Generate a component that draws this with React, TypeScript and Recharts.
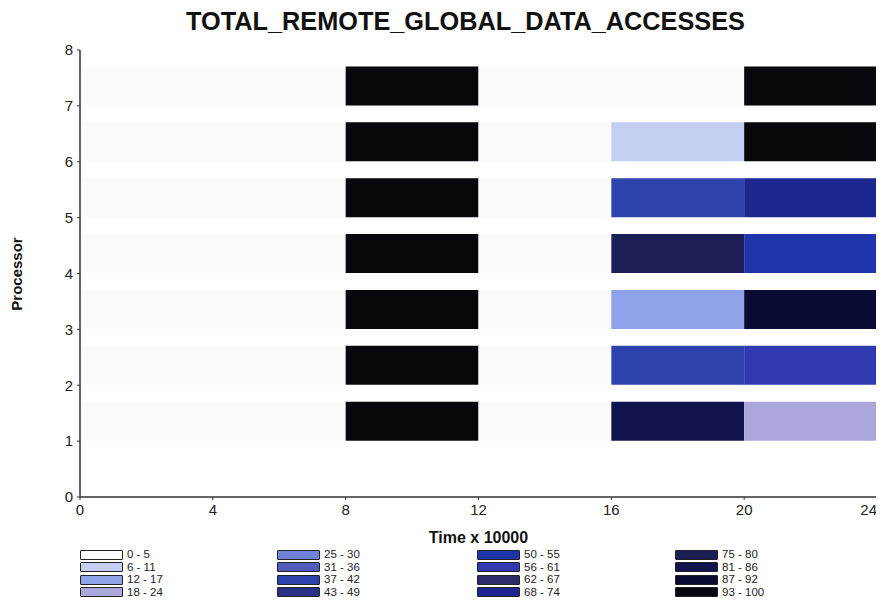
import React from 'react';
import { BarChart, Bar, XAxis, YAxis, Cell, Label } from 'recharts';

// Time intervals (x 10000) and the processors shown on the y axis
const timeBreaks = [0, 4, 8, 12, 16, 20, 24];
const processors = [1, 2, 3, 4, 5, 6, 7];

// Percentage of remote global data accesses per processor, one array per time interval
const interval0to4 = [2, 2, 2, 2, 2, 2, 2];
const interval4to8 = [2, 2, 2, 2, 2, 2, 2];
const interval8to12 = [97, 97, 97, 97, 97, 97, 97];
const interval12to16 = [2, 2, 2, 2, 2, 2, 2];
const interval16to20 = [83, 40, 15, 77, 40, 9, 2];
const interval20to24 = [20, 58, 90, 52, 70, 97, 97];
const intervals = [interval0to4, interval4to8, interval8to12, interval12to16, interval16to20, interval20to24];

// Colour scale
const levelLow = [0, 6, 12, 18, 25, 31, 37, 43, 50, 56, 62, 68, 75, 81, 87, 93];
const levelLabels = [
  '0 - 5', '6 - 11', '12 - 17', '18 - 24',
  '25 - 30', '31 - 36', '37 - 42', '43 - 49',
  '50 - 55', '56 - 61', '62 - 67', '68 - 74',
  '75 - 80', '81 - 86', '87 - 92', '93 - 100',
];
const levelColors = [
  '#fafafb', '#c4cff2', '#8ea3ea', '#aba6db',
  '#7183d8', '#525cba', '#2d42ac', '#283184',
  '#1e34a8', '#3039b0', '#2c2a68', '#1c2890',
  '#1c1f54', '#10134c', '#0b0c34', '#07070c',
];

const xTicks = [0, 4, 8, 12, 16, 20, 24];
const yTicks = [0, 1, 2, 3, 4, 5, 6, 7, 8];
const barThickness = 0.7; // fraction of one processor unit

const levelColor = (v: number) => {
  let idx = 0;
  levelLow.forEach((low, i) => {
    if (v >= low) idx = i;
  });
  return levelColors[idx];
};

const rows = processors.map((p) => {
  const row: Record<string, number> = { center: p + barThickness / 2 };
  intervals.forEach((_, s) => {
    row[`s${s}`] = timeBreaks[s + 1] - timeBreaks[s];
  });
  return row;
});

const FONT = '"Liberation Sans", Arial, Helvetica, sans-serif';

const W = 884;
const H = 605;
const plotLeft = 80;
const plotRight = 877;
const plotTop = 50;
const plotBottom = 497;
const yAxisWidth = 40;
const xAxisHeight = 30;
const barPx = Math.round(((plotBottom - plotTop) / 8) * barThickness);

const legendCols = [80, 277, 477, 675];
const legendRowsY = [549, 561.5, 574, 586.5];

// x tick label; the last one is pulled left so it stays inside the page
const TimeTick = (props: any) => {
  const { x, y, payload } = props;
  const last = payload.value === xTicks[xTicks.length - 1];
  return (
    <text
      x={last ? x + 1 : x}
      y={y + 12}
      textAnchor={last ? 'end' : 'middle'}
      fontFamily={FONT}
      fontSize={15}
      fill="#222"
    >
      {payload.value}
    </text>
  );
};

export default function App() {
  return (
    <div style={{ margin: -8, width: W, height: H, position: 'relative', background: '#fff', overflow: 'hidden' }}>
      <svg width={W} height={60} style={{ position: 'absolute', left: 0, top: 0 }}>
        <text
          x={186}
          y={30}
          textLength={559}
          lengthAdjust="spacingAndGlyphs"
          fontFamily={FONT}
          fontWeight="bold"
          fontSize={25}
          fill="#111"
        >
          TOTAL_REMOTE_GLOBAL_DATA_ACCESSES
        </text>
      </svg>
      <div style={{ position: 'absolute', left: 0, top: 0 }}>
        <BarChart
          width={W}
          height={H}
          data={rows}
          layout="vertical"
          barSize={barPx}
          style={{ overflow: 'visible' }}
          margin={{
            top: plotTop,
            right: W - plotRight,
            left: plotLeft - yAxisWidth,
            bottom: H - plotBottom - xAxisHeight,
          }}
        >
          <XAxis
            type="number"
            domain={[0, 24]}
            ticks={xTicks}
            height={xAxisHeight}
            axisLine={{ stroke: '#333', strokeWidth: 1.5 }}
            tickLine={{ stroke: '#333' }}
            tickSize={3}
            tickMargin={3}
            tick={<TimeTick />}
          >
            <Label
              value="Time x 10000"
              position="insideBottom"
              offset={-16}
              style={{ fontFamily: FONT, fontWeight: 'bold', fontSize: 16, fill: '#111' }}
            />
          </XAxis>
          <YAxis
            type="number"
            dataKey="center"
            domain={[0, 8]}
            ticks={yTicks}
            reversed
            width={yAxisWidth}
            axisLine={{ stroke: '#333', strokeWidth: 1.5 }}
            tickLine={{ stroke: '#333' }}
            tickSize={3}
            tickMargin={4}
            tick={{ fill: '#222', fontSize: 15, fontFamily: FONT }}
          />
          {intervals.map((values, s) => (
            <Bar key={s} dataKey={`s${s}`} stackId="t" isAnimationActive={false}>
              {rows.map((_, r) => (
                <Cell key={r} fill={levelColor(values[r])} />
              ))}
            </Bar>
          ))}
        </BarChart>
      </div>
      <svg width={40} height={H} style={{ position: 'absolute', left: 0, top: 0 }}>
        <text
          x={0}
          y={0}
          transform="translate(22 274) rotate(-90)"
          textAnchor="middle"
          fontFamily={FONT}
          fontWeight="bold"
          fontSize={15}
          fill="#111"
        >
          Processor
        </text>
      </svg>
      {levelLabels.map((label, i) => {
        const col = Math.floor(i / 4);
        const row = i % 4;
        return (
          <div
            key={label}
            style={{
              position: 'absolute',
              left: legendCols[col],
              top: legendRowsY[row],
              display: 'flex',
              alignItems: 'center',
              height: 11,
            }}
          >
            <div
              style={{
                width: 41,
                height: 8,
                background: i === 0 ? '#fff' : levelColors[i],
                border: '1.5px solid #222',
                borderRadius: 1,
              }}
            />
            <span style={{ marginLeft: 4, fontFamily: FONT, fontSize: 11.5, color: '#222', lineHeight: '11px' }}>
              {label}
            </span>
          </div>
        );
      })}
    </div>
  );
}
